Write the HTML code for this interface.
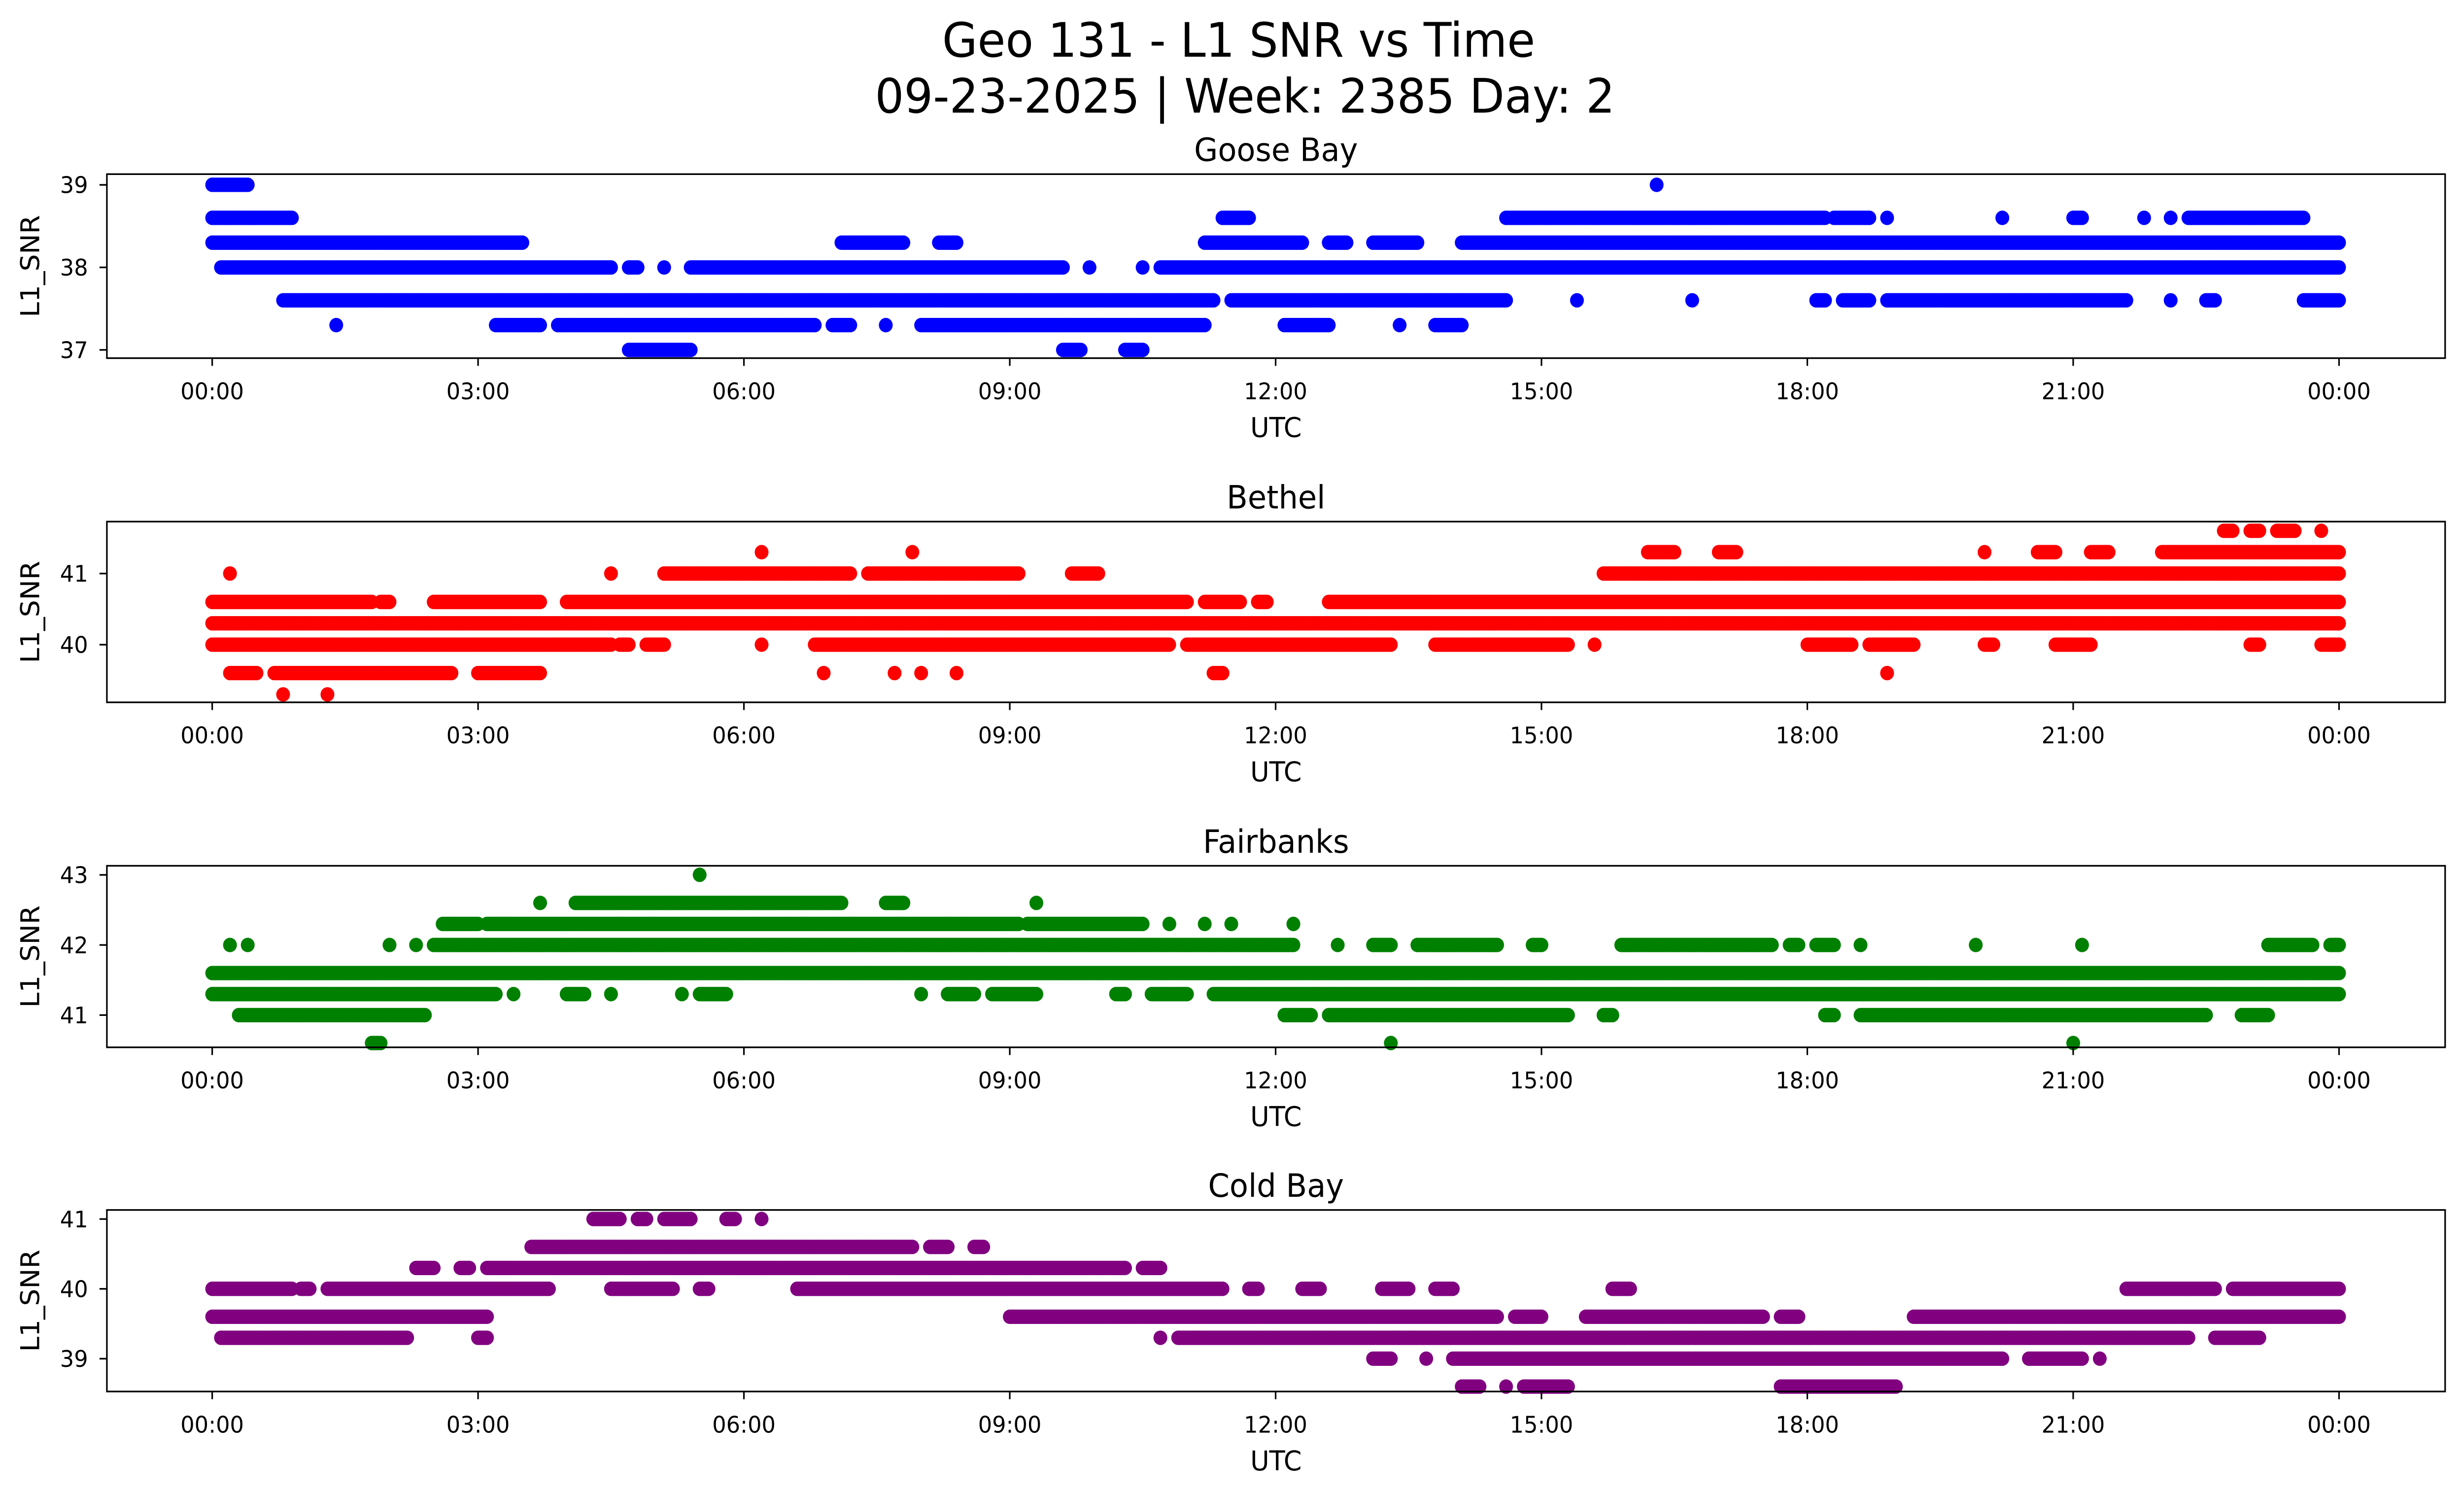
<!DOCTYPE html>
<html><head><meta charset="utf-8">
<style>
html,body{margin:0;padding:0;background:#fff;overflow:hidden;width:100%;height:100%;}
svg{display:block;width:100vw;height:100vh;}
text{font-family:"DejaVu Sans","Liberation Sans",sans-serif;fill:#000;}
</style></head>
<body>
<svg id="chart" xmlns="http://www.w3.org/2000/svg" viewBox="0 0 1567.5 910" preserveAspectRatio="none">
<rect width="1567.5" height="910" fill="#fff"/>
<text x="788" y="34.5" font-size="29" text-anchor="middle">Geo 131 - L1 SNR vs Time</text>
<text x="792" y="68.5" font-size="29" text-anchor="middle">09-23-2025 | Week: 2385 Day: 2</text>
</svg>
<script>
// x tick labels (hours)
const xTickHours = [0,3,6,9,12,15,18,21,24];
const xTickLabels = ["00:00","03:00","06:00","09:00","12:00","15:00","18:00","21:00","00:00"];
const stationNames = ["Goose Bay","Bethel","Fairbanks","Cold Bay"];
const stationColors = ["#0000ff","#ff0000","#008000","#800080"];
const yTicks = [[37,38,39],[40,41],[41,42,43],[39,40,41]];
const yRanges = [[36.9,39.13],[39.19,41.73],[40.54,43.13],[38.53,41.13]];

// Data: per station, level -> list of [startHour,endHour] ranges where samples exist
const gooseBay = [
 [39.0,[[0,0.4],[16.3,16.3]]],
 [38.6,[[0,0.9],[11.4,11.7],[14.6,18.2],[18.3,18.7],[18.9,18.9],[20.2,20.2],[21,21.1],[21.8,21.8],[22.1,22.1],[22.3,23.6]]],
 [38.3,[[0,3.5],[7.1,7.8],[8.2,8.4],[11.2,12.3],[12.6,12.8],[13.1,13.6],[14.1,24]]],
 [38.0,[[0.1,4.5],[4.7,4.8],[5.1,5.1],[5.4,9.6],[9.9,9.9],[10.5,10.5],[10.7,24]]],
 [37.6,[[0.8,11.3],[11.5,14.6],[15.4,15.4],[16.7,16.7],[18.1,18.2],[18.4,18.7],[18.9,21.6],[22.1,22.1],[22.5,22.6],[23.6,24]]],
 [37.3,[[1.4,1.4],[3.2,3.7],[3.9,6.8],[7.0,7.2],[7.6,7.6],[8.0,11.2],[12.1,12.6],[13.4,13.4],[13.8,14.1]]],
 [37.0,[[4.7,5.4],[9.6,9.8],[10.3,10.5]]]
];
const bethel = [
 [41.6,[[22.7,22.8],[23.0,23.1],[23.3,23.5],[23.8,23.8]]],
 [41.3,[[6.2,6.2],[7.9,7.9],[16.2,16.5],[17.0,17.2],[20.0,20.0],[20.6,20.8],[21.2,21.4],[22.0,24]]],
 [41.0,[[0.2,0.2],[4.5,4.5],[5.1,7.2],[7.4,9.1],[9.7,10.0],[15.7,24]]],
 [40.6,[[0,1.8],[1.9,2.0],[2.5,3.7],[4.0,11.0],[11.2,11.6],[11.8,11.9],[12.6,24]]],
 [40.3,[[0,24]]],
 [40.0,[[0,4.5],[4.6,4.7],[4.9,5.1],[6.2,6.2],[6.8,10.8],[11.0,13.3],[13.8,15.3],[15.6,15.6],[18.0,18.5],[18.7,19.2],[20.0,20.1],[20.8,21.2],[23.0,23.1],[23.8,24]]],
 [39.6,[[0.2,0.5],[0.7,2.7],[3.0,3.7],[6.9,6.9],[7.7,7.7],[8.0,8.0],[8.4,8.4],[11.3,11.4],[18.9,18.9]]],
 [39.3,[[0.8,0.8],[1.3,1.3]]]
];
const fairbanks = [
 [43.0,[[5.5,5.5]]],
 [42.6,[[3.7,3.7],[4.1,7.1],[7.6,7.8],[9.3,9.3]]],
 [42.3,[[2.6,3.0],[3.1,9.1],[9.2,10.5],[10.8,10.8],[11.2,11.2],[11.5,11.5],[12.2,12.2]]],
 [42.0,[[0.2,0.2],[0.4,0.4],[2.0,2.0],[2.3,2.3],[2.5,12.2],[12.7,12.7],[13.1,13.3],[13.6,14.5],[14.9,15.0],[15.9,17.6],[17.8,17.9],[18.1,18.3],[18.6,18.6],[19.9,19.9],[21.1,21.1],[23.2,23.7],[23.9,24]]],
 [41.6,[[0,24]]],
 [41.3,[[0,3.2],[3.4,3.4],[4.0,4.2],[4.5,4.5],[5.3,5.3],[5.5,5.8],[8.0,8.0],[8.3,8.6],[8.8,9.3],[10.2,10.3],[10.6,11.0],[11.3,24]]],
 [41.0,[[0.3,2.4],[12.1,12.4],[12.6,15.3],[15.7,15.8],[18.2,18.3],[18.6,22.5],[22.9,23.2]]],
 [40.6,[[1.8,1.9],[13.3,13.3],[21.0,21.0]]]
];
const coldBay = [
 [41.0,[[4.3,4.6],[4.8,4.9],[5.1,5.4],[5.8,5.9],[6.2,6.2]]],
 [40.6,[[3.6,7.9],[8.1,8.3],[8.6,8.7]]],
 [40.3,[[2.3,2.5],[2.8,2.9],[3.1,10.3],[10.5,10.7]]],
 [40.0,[[0,0.9],[1.0,1.1],[1.3,3.8],[4.5,5.2],[5.5,5.6],[6.6,11.4],[11.7,11.8],[12.3,12.5],[13.2,13.5],[13.8,14.0],[15.8,16.0],[21.6,22.6],[22.8,24]]],
 [39.6,[[0,3.1],[9.0,14.5],[14.7,15.0],[15.5,17.5],[17.7,17.9],[19.2,24]]],
 [39.3,[[0.1,2.2],[3.0,3.1],[10.7,10.7],[10.9,22.3],[22.6,23.1]]],
 [39.0,[[13.1,13.3],[13.7,13.7],[14.0,20.2],[20.5,21.1],[21.3,21.3]]],
 [38.6,[[14.1,14.3],[14.6,14.6],[14.8,15.3],[17.7,19.0]]]
];
const stationData = [gooseBay, bethel, fairbanks, coldBay];

const NS = "http://www.w3.org/2000/svg";
const svg = document.getElementById('chart');
const boxes = [[106,218],[317.5,427.5],[527,637.5],[736.5,847]];
const axL = 68, axR = 1555.5, x0 = 135, x24 = 1488;
function xScale(h){ return x0 + (x24 - x0) * h / 24; }
function mk(tag, attrs, parent){
  const e = document.createElementNS(NS, tag);
  for (const k in attrs) e.setAttribute(k, attrs[k]);
  parent.appendChild(e); return e;
}
stationData.forEach(function(data, i){
  const top = boxes[i][0], bot = boxes[i][1];
  const yr = yRanges[i];
  const yScale = v => bot - (v - yr[0]) / (yr[1] - yr[0]) * (bot - top);
  const g = mk('g', {}, svg);
  
  
  const pts = mk('g', {fill: stationColors[i]}, g);
  
  
  data.forEach(function(lv){
    const y = yScale(lv[0]);
    lv[1].forEach(function(r){
      for (let h = r[0]; h <= r[1] + 1e-9; h += 0.02){
        mk('circle', {cx: xScale(h).toFixed(1), cy: y.toFixed(1), r: 4.4}, pts);
      }
    });
  });
  const frame = mk('rect', {x: axL, y: top, width: axR - axL, height: bot - top, fill: 'none', stroke: '#000', 'stroke-width': 1}, g);
  
  
  const t = mk('text', {x: (axL + axR) / 2, y: top - 8, 'font-size': 19.5, 'text-anchor': 'middle'}, g);
  t.textContent = stationNames[i];
  
  
  xTickHours.forEach(function(h, k){
    const x = xScale(h);
    mk('line', {x1: x, x2: x, y1: bot, y2: bot + 4.7, stroke: '#000', 'stroke-width': 1}, g);
    const tl = mk('text', {x: x, y: bot + 25, 'font-size': 14, 'text-anchor': 'middle'}, g);
    tl.textContent = xTickLabels[k];
    
    
  });
  yTicks[i].forEach(function(v){
    const y = yScale(v);
    mk('line', {x1: axL - 4.7, x2: axL, y1: y, y2: y, stroke: '#000', 'stroke-width': 1}, g);
    const tl = mk('text', {x: axL - 12, y: y + 5, 'font-size': 14, 'text-anchor': 'end'}, g);
    tl.textContent = String(v);
    
    
  });
  const xl = mk('text', {x: (axL + axR) / 2, y: bot + 48, 'font-size': 16.5, 'text-anchor': 'middle'}, g);
  xl.textContent = 'UTC';
  
  
  const yc = (top + bot) / 2;
  const yl = mk('text', {x: 25, y: yc, 'font-size': 16.5, 'text-anchor': 'middle', transform: 'rotate(-90 25 ' + yc + ')'}, g);
  yl.textContent = 'L1_SNR';
  
  
});
</script>
</body></html>
